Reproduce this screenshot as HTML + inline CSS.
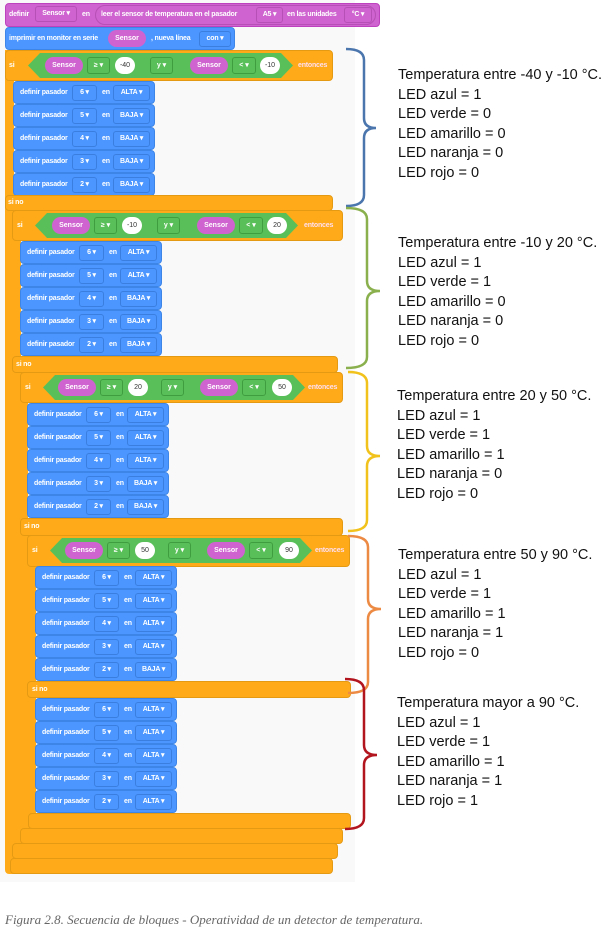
<!DOCTYPE html>
<html><head><meta charset="utf-8"><style>
*{margin:0;padding:0;box-sizing:border-box}
body{width:604px;height:943px;background:#fff;position:relative;overflow:hidden;font-family:"Liberation Sans",Arial,sans-serif}
.a{position:absolute}
.bg{left:0;top:0;width:355px;height:882px;background:#f9f9f9}
.or{background:#ffab19;border:1px solid #e59a14;border-radius:4px}
.sp{background:#ffab19}
.bl{position:absolute;width:142px;height:23px;background:#4c97ff;border:1px solid #3d86e8;border-radius:4px;color:#fff;font-size:7px;font-weight:bold;letter-spacing:-0.2px}
.t{position:absolute;top:7px;white-space:nowrap}
.pl{position:absolute;top:3px;height:16px;border:1px solid #3a7ee0;border-radius:3px;color:#fff;font-size:7px;font-weight:bold;text-align:center;line-height:14px;white-space:nowrap;letter-spacing:-0.2px}
.lbl{position:absolute;color:#fff;font-size:7px;font-weight:bold;white-space:nowrap;letter-spacing:-0.2px}
.hex{position:absolute;height:25px;background:#59c059;clip-path:polygon(12px 0,calc(100% - 12px) 0,100% 50%,calc(100% - 12px) 100%,12px 100%,0 50%)}
.pp{position:absolute;top:4px;height:17px;background:#cf63cf;border-radius:9px;color:#fff;font-size:7px;font-weight:bold;text-align:center;line-height:17px}
.gp{position:absolute;top:4px;height:17px;border:1px solid #3f9d3f;border-radius:3px;color:#fff;font-size:7px;font-weight:bold;text-align:center;line-height:15px}
.wp{position:absolute;top:4px;height:17px;background:#fff;border-radius:9px;color:#333;font-size:7px;text-align:center;line-height:17px}
.txt{position:absolute;left:398px;font-size:14.5px;line-height:19.5px;color:#111;white-space:nowrap}
</style></head><body>
<div class="a bg"></div>

<div class="a sp" style="left:5px;top:50px;width:9px;height:824px;border-radius:0 0 0 4px"></div>
<div class="a sp" style="left:11px;top:210px;width:10px;height:649px"></div>
<div class="a sp" style="left:20px;top:372px;width:8px;height:472px"></div>
<div class="a sp" style="left:27px;top:535px;width:9px;height:294px"></div>

<div class="a or" style="left:10px;top:858px;width:323px;height:16px"></div>
<div class="a or" style="left:12px;top:843px;width:326px;height:16px"></div>
<div class="a or" style="left:20px;top:828px;width:323px;height:16px"></div>
<div class="a or" style="left:28px;top:813px;width:323px;height:16px"></div>

<div class="a" style="left:5px;top:3px;width:375px;height:24px;background:#cf63cf;border:1px solid #bd42bd;border-radius:4px"></div>
<div class="lbl" style="left:9px;top:11px">definir</div>
<div class="pl" style="left:35px;top:6px;width:42px;border-color:#b64fb6">Sensor ▾</div>
<div class="lbl" style="left:82px;top:11px">en</div>
<div class="a" style="left:95px;top:5px;width:281px;height:20px;background:#cf63cf;border:1px solid #b64fb6;border-radius:10px"></div>
<div class="lbl" style="left:101px;top:11px">leer el sensor de temperatura en el pasador</div>
<div class="pl" style="left:256px;top:7px;width:27px;height:16px;border-color:#b64fb6">A5 ▾</div>
<div class="lbl" style="left:287px;top:11px">en las unidades</div>
<div class="pl" style="left:344px;top:7px;width:28px;height:16px;border-color:#b64fb6">°C ▾</div>

<div class="a" style="left:5px;top:27px;width:230px;height:23px;background:#4c97ff;border:1px solid #3d86e8;border-radius:4px"></div>
<div class="lbl" style="left:9px;top:35px">imprimir en monitor en serie</div>
<div class="pp" style="left:108px;top:30px;width:38px">Sensor</div>
<div class="lbl" style="left:151px;top:35px">, nueva línea</div>
<div class="pl" style="left:199px;top:31px;width:32px">con ▾</div>

<!-- LEVEL 1 -->
<div class="a or" style="left:5px;top:50px;width:328px;height:31px"></div>
<div class="lbl" style="left:9px;top:62px">si</div>
<div class="hex" style="left:28px;top:53px;width:265px">
 <div class="pp" style="left:17px;width:38px">Sensor</div><div class="gp" style="left:59px;width:23px">≥ ▾</div><div class="wp" style="left:87px;width:20px">-40</div>
 <div class="gp" style="left:122px;width:23px">y ▾</div>
 <div class="pp" style="left:162px;width:38px">Sensor</div><div class="gp" style="left:204px;width:24px">&lt; ▾</div><div class="wp" style="left:232px;width:20px">-10</div></div>
<div class="lbl" style="left:298px;top:62px;color:#fde">entonces</div>
<div class="bl" style="left:13px;top:81px"><span class="t" style="left:6px">definir pasador</span><div class="pl" style="left:58px;width:25px">6 ▾</div><span class="t" style="left:88px">en</span><div class="pl" style="left:99px;width:37px">ALTA ▾</div></div>
<div class="bl" style="left:13px;top:104px"><span class="t" style="left:6px">definir pasador</span><div class="pl" style="left:58px;width:25px">5 ▾</div><span class="t" style="left:88px">en</span><div class="pl" style="left:99px;width:37px">BAJA ▾</div></div>
<div class="bl" style="left:13px;top:127px"><span class="t" style="left:6px">definir pasador</span><div class="pl" style="left:58px;width:25px">4 ▾</div><span class="t" style="left:88px">en</span><div class="pl" style="left:99px;width:37px">BAJA ▾</div></div>
<div class="bl" style="left:13px;top:150px"><span class="t" style="left:6px">definir pasador</span><div class="pl" style="left:58px;width:25px">3 ▾</div><span class="t" style="left:88px">en</span><div class="pl" style="left:99px;width:37px">BAJA ▾</div></div>
<div class="bl" style="left:13px;top:173px"><span class="t" style="left:6px">definir pasador</span><div class="pl" style="left:58px;width:25px">2 ▾</div><span class="t" style="left:88px">en</span><div class="pl" style="left:99px;width:37px">BAJA ▾</div></div>
<div class="a or" style="left:5px;top:195px;width:328px;height:16px"></div>
<div class="lbl" style="left:8px;top:199px">si no</div>

<!-- LEVEL 2 -->
<div class="a or" style="left:12px;top:210px;width:331px;height:31px"></div>
<div class="lbl" style="left:17px;top:222px">si</div>
<div class="hex" style="left:35px;top:213px;width:263px">
 <div class="pp" style="left:17px;width:38px">Sensor</div><div class="gp" style="left:59px;width:23px">≥ ▾</div><div class="wp" style="left:87px;width:20px">-10</div>
 <div class="gp" style="left:122px;width:23px">y ▾</div>
 <div class="pp" style="left:162px;width:38px">Sensor</div><div class="gp" style="left:204px;width:24px">&lt; ▾</div><div class="wp" style="left:232px;width:20px">20</div></div>
<div class="lbl" style="left:304px;top:222px;color:#fde">entonces</div>
<div class="bl" style="left:20px;top:241px"><span class="t" style="left:6px">definir pasador</span><div class="pl" style="left:58px;width:25px">6 ▾</div><span class="t" style="left:88px">en</span><div class="pl" style="left:99px;width:37px">ALTA ▾</div></div>
<div class="bl" style="left:20px;top:264px"><span class="t" style="left:6px">definir pasador</span><div class="pl" style="left:58px;width:25px">5 ▾</div><span class="t" style="left:88px">en</span><div class="pl" style="left:99px;width:37px">ALTA ▾</div></div>
<div class="bl" style="left:20px;top:287px"><span class="t" style="left:6px">definir pasador</span><div class="pl" style="left:58px;width:25px">4 ▾</div><span class="t" style="left:88px">en</span><div class="pl" style="left:99px;width:37px">BAJA ▾</div></div>
<div class="bl" style="left:20px;top:310px"><span class="t" style="left:6px">definir pasador</span><div class="pl" style="left:58px;width:25px">3 ▾</div><span class="t" style="left:88px">en</span><div class="pl" style="left:99px;width:37px">BAJA ▾</div></div>
<div class="bl" style="left:20px;top:333px"><span class="t" style="left:6px">definir pasador</span><div class="pl" style="left:58px;width:25px">2 ▾</div><span class="t" style="left:88px">en</span><div class="pl" style="left:99px;width:37px">BAJA ▾</div></div>
<div class="a or" style="left:12px;top:356px;width:326px;height:17px"></div>
<div class="lbl" style="left:16px;top:361px">si no</div>

<!-- LEVEL 3 -->
<div class="a or" style="left:20px;top:372px;width:323px;height:31px"></div>
<div class="lbl" style="left:25px;top:384px">si</div>
<div class="hex" style="left:43px;top:375px;width:262px">
 <div class="pp" style="left:15px;width:38px">Sensor</div><div class="gp" style="left:57px;width:23px">≥ ▾</div><div class="wp" style="left:85px;width:20px">20</div>
 <div class="gp" style="left:118px;width:23px">y ▾</div>
 <div class="pp" style="left:157px;width:38px">Sensor</div><div class="gp" style="left:199px;width:24px">&lt; ▾</div><div class="wp" style="left:229px;width:20px">50</div></div>
<div class="lbl" style="left:308px;top:384px;color:#fde">entonces</div>
<div class="bl" style="left:27px;top:403px"><span class="t" style="left:6px">definir pasador</span><div class="pl" style="left:58px;width:25px">6 ▾</div><span class="t" style="left:88px">en</span><div class="pl" style="left:99px;width:37px">ALTA ▾</div></div>
<div class="bl" style="left:27px;top:426px"><span class="t" style="left:6px">definir pasador</span><div class="pl" style="left:58px;width:25px">5 ▾</div><span class="t" style="left:88px">en</span><div class="pl" style="left:99px;width:37px">ALTA ▾</div></div>
<div class="bl" style="left:27px;top:449px"><span class="t" style="left:6px">definir pasador</span><div class="pl" style="left:58px;width:25px">4 ▾</div><span class="t" style="left:88px">en</span><div class="pl" style="left:99px;width:37px">ALTA ▾</div></div>
<div class="bl" style="left:27px;top:472px"><span class="t" style="left:6px">definir pasador</span><div class="pl" style="left:58px;width:25px">3 ▾</div><span class="t" style="left:88px">en</span><div class="pl" style="left:99px;width:37px">BAJA ▾</div></div>
<div class="bl" style="left:27px;top:495px"><span class="t" style="left:6px">definir pasador</span><div class="pl" style="left:58px;width:25px">2 ▾</div><span class="t" style="left:88px">en</span><div class="pl" style="left:99px;width:37px">BAJA ▾</div></div>
<div class="a or" style="left:20px;top:518px;width:323px;height:18px"></div>
<div class="lbl" style="left:24px;top:523px">si no</div>

<!-- LEVEL 4 -->
<div class="a or" style="left:27px;top:535px;width:323px;height:32px"></div>
<div class="lbl" style="left:32px;top:547px">si</div>
<div class="hex" style="left:50px;top:538px;width:262px">
 <div class="pp" style="left:15px;width:38px">Sensor</div><div class="gp" style="left:57px;width:23px">≥ ▾</div><div class="wp" style="left:85px;width:20px">50</div>
 <div class="gp" style="left:118px;width:23px">y ▾</div>
 <div class="pp" style="left:157px;width:38px">Sensor</div><div class="gp" style="left:199px;width:24px">&lt; ▾</div><div class="wp" style="left:229px;width:20px">90</div></div>
<div class="lbl" style="left:315px;top:547px;color:#fde">entonces</div>
<div class="bl" style="left:35px;top:566px"><span class="t" style="left:6px">definir pasador</span><div class="pl" style="left:58px;width:25px">6 ▾</div><span class="t" style="left:88px">en</span><div class="pl" style="left:99px;width:37px">ALTA ▾</div></div>
<div class="bl" style="left:35px;top:589px"><span class="t" style="left:6px">definir pasador</span><div class="pl" style="left:58px;width:25px">5 ▾</div><span class="t" style="left:88px">en</span><div class="pl" style="left:99px;width:37px">ALTA ▾</div></div>
<div class="bl" style="left:35px;top:612px"><span class="t" style="left:6px">definir pasador</span><div class="pl" style="left:58px;width:25px">4 ▾</div><span class="t" style="left:88px">en</span><div class="pl" style="left:99px;width:37px">ALTA ▾</div></div>
<div class="bl" style="left:35px;top:635px"><span class="t" style="left:6px">definir pasador</span><div class="pl" style="left:58px;width:25px">3 ▾</div><span class="t" style="left:88px">en</span><div class="pl" style="left:99px;width:37px">ALTA ▾</div></div>
<div class="bl" style="left:35px;top:658px"><span class="t" style="left:6px">definir pasador</span><div class="pl" style="left:58px;width:25px">2 ▾</div><span class="t" style="left:88px">en</span><div class="pl" style="left:99px;width:37px">BAJA ▾</div></div>
<div class="a or" style="left:27px;top:681px;width:324px;height:17px"></div>
<div class="lbl" style="left:32px;top:686px">si no</div>
<div class="bl" style="left:35px;top:698px"><span class="t" style="left:6px">definir pasador</span><div class="pl" style="left:58px;width:25px">6 ▾</div><span class="t" style="left:88px">en</span><div class="pl" style="left:99px;width:37px">ALTA ▾</div></div>
<div class="bl" style="left:35px;top:721px"><span class="t" style="left:6px">definir pasador</span><div class="pl" style="left:58px;width:25px">5 ▾</div><span class="t" style="left:88px">en</span><div class="pl" style="left:99px;width:37px">ALTA ▾</div></div>
<div class="bl" style="left:35px;top:744px"><span class="t" style="left:6px">definir pasador</span><div class="pl" style="left:58px;width:25px">4 ▾</div><span class="t" style="left:88px">en</span><div class="pl" style="left:99px;width:37px">ALTA ▾</div></div>
<div class="bl" style="left:35px;top:767px"><span class="t" style="left:6px">definir pasador</span><div class="pl" style="left:58px;width:25px">3 ▾</div><span class="t" style="left:88px">en</span><div class="pl" style="left:99px;width:37px">ALTA ▾</div></div>
<div class="bl" style="left:35px;top:790px"><span class="t" style="left:6px">definir pasador</span><div class="pl" style="left:58px;width:25px">2 ▾</div><span class="t" style="left:88px">en</span><div class="pl" style="left:99px;width:37px">ALTA ▾</div></div>

<svg class="a" style="left:0;top:0" width="604" height="943" fill="none" stroke-width="2.5">
 <path d="M346 49 Q364 49 364 60 L364 118 Q364 128 376 128 Q364 128 364 138 L364 195 Q364 206 346 206" stroke="#4a75ad"/>
 <path d="M346 208 Q367 208 367 219 L367 281 Q367 291 380 291 Q367 291 367 301 L367 357 Q367 368 346 368" stroke="#8ab04e"/>
 <path d="M348 372 Q367 372 367 383 L367 446 Q367 456 380 456 Q367 456 367 466 L367 520 Q367 531 348 531" stroke="#f2c21c"/>
 <path d="M348 536 Q368 536 368 547 L368 599 Q368 609 381 609 Q368 609 368 619 L368 682 Q368 693 348 693" stroke="#ec8a43"/>
 <path d="M345 679 Q364 679 364 690 L364 745 Q364 755 377 755 Q364 755 364 765 L364 818 Q364 829 345 829" stroke="#b3151f"/>
</svg>

<div class="txt" style="top:66px">Temperatura entre -40 y -10 °C.<br>LED azul = 1<br>LED verde = 0<br>LED amarillo = 0<br>LED naranja = 0<br>LED rojo = 0</div>
<div class="txt" style="top:234px">Temperatura entre -10 y 20 °C.<br>LED azul = 1<br>LED verde = 1<br>LED amarillo = 0<br>LED naranja = 0<br>LED rojo = 0</div>
<div class="txt" style="left:397px;top:387px">Temperatura entre 20 y 50 °C.<br>LED azul = 1<br>LED verde = 1<br>LED amarillo = 1<br>LED naranja = 0<br>LED rojo = 0</div>
<div class="txt" style="top:546px">Temperatura entre 50 y 90 °C.<br>LED azul = 1<br>LED verde = 1<br>LED amarillo = 1<br>LED naranja = 1<br>LED rojo = 0</div>
<div class="txt" style="left:397px;top:694px">Temperatura mayor a 90 °C.<br>LED azul = 1<br>LED verde = 1<br>LED amarillo = 1<br>LED naranja = 1<br>LED rojo = 1</div>

<div class="a" style="left:5px;top:912px;font-family:'Liberation Serif',serif;font-style:italic;font-size:13px;color:#666;white-space:nowrap">Figura 2.8. Secuencia de bloques - Operatividad de un detector de temperatura.</div>
</body></html>
